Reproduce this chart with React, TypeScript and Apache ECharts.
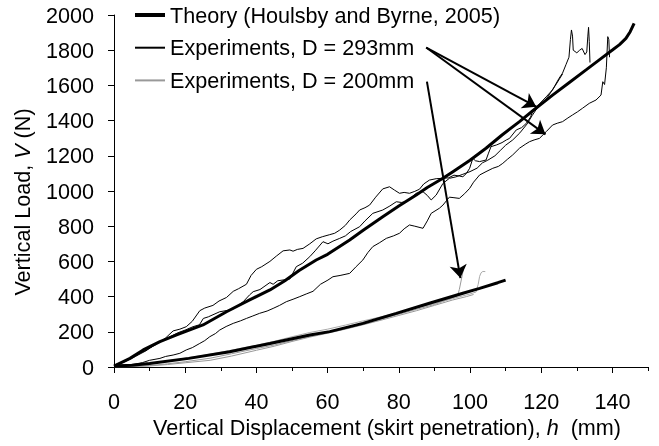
import React, { useEffect, useRef } from 'react';
import * as echarts from 'echarts';

// ---- data: [h (mm), V (N)] ----
const theory293 = [[0,5],[4.5,49],[8.2,97],[12.9,144],[17.6,182],[25,239],[31.6,314],[38.1,381],[43.8,438],[48,490],[52,548],[56.8,608],[60,640],[66.2,722],[70,777],[75.5,854],[80,915],[84.9,977],[88,1020],[92.4,1072],[95.2,1110],[100,1175],[104.5,1243],[109,1318],[113.9,1394],[118.5,1470],[123.2,1545],[128,1618],[132.6,1688],[136.5,1748],[140,1801],[142,1832],[143.8,1867],[145,1905],[146.1,1953]];

const theory200 = [[0,5],[5,10],[10,20],[21,49],[32.5,87],[43.8,134],[55,182],[60.6,201],[69.9,248],[79.3,305],[88.6,362],[98,419],[102.7,447],[107.8,479],[110,494]];

const exp293a = [[0,10],[3,35],[6,65],[9,95],[12,130],[14.5,165],[16.6,205],[18.5,215],[20.3,229],[22,260],[24.1,320],[25.5,335],[27.8,350],[29.5,375],[31.6,395],[33.5,430],[35,445],[37.2,470],[38.5,520],[40,555],[41.5,570],[43.8,600],[45.6,630],[47.5,660],[49.4,665],[50.3,658],[51.5,668],[53.1,674],[55,700],[56.8,728],[58.5,740],[60.6,752],[62,760],[63.4,778],[65,805],[66.2,835],[68,870],[69,892],[70.5,905],[71.8,920],[73.5,965],[75.5,1012],[77.4,1024],[78.8,1005],[80.2,987],[81.5,992],[83,987],[84.5,998],[85.8,1010],[87,1040],[88.6,1062],[90.5,1070],[92.4,1072],[94,1075],[95.5,1090],[97,1085],[98,1081],[99,1100],[99.9,1129],[100.8,1186],[101.5,1172],[102.7,1167],[104.5,1176],[105.2,1215],[105.9,1252],[107.5,1262],[109,1275],[110.2,1290],[111.1,1299],[113,1347],[114.5,1360],[115.8,1384],[117,1420],[117.6,1451],[119.5,1495],[121.4,1535],[123.2,1575],[125,1640],[126,1670],[127,1720],[127.8,1760],[128.2,1860],[128.5,1915],[128.8,1880],[129,1800],[130,1785],[130.8,1800],[131.5,1810],[132.3,1775],[132.8,1790],[133.1,1880],[133.3,1930],[133.5,1850],[133.7,1730]];

const exp293b = [[0,8],[3,30],[6,60],[9,92],[12,135],[15,165],[18,195],[20,210],[22.2,229],[24,240],[25.1,276],[26.5,285],[29.7,314],[32,322],[33.5,330],[36.3,371],[38.1,410],[39.1,428],[41,440],[43.8,480],[44.7,470],[46,490],[49.4,500],[51.2,570],[53,590],[55,627],[56.5,660],[58.7,712],[60.1,700],[61.5,715],[63.4,731],[65,745],[66.5,770],[69,797],[70.5,830],[72.7,873],[75.5,892],[77.5,915],[79.3,939],[80.7,935],[82.1,939],[84.9,987],[86.8,996],[88,975],[89.1,949],[90.5,977],[92.4,1043],[94.2,1072],[96,1080],[98,1095],[100,1110],[102,1130],[103.5,1160],[105,1175],[107,1200],[108.5,1230],[110,1260],[112,1290],[114,1330],[116,1380],[117.5,1430],[119,1475],[120.5,1500],[122,1540],[124,1600],[126,1665]];

const exp293c = [[0,5],[2,10],[4.5,11],[8,25],[10,38],[12.9,49],[14.5,60],[16.6,68],[18.5,78],[20.3,97],[22,110],[24.1,134],[25.5,150],[26.9,172],[28.5,190],[29.7,210],[31.5,230],[33.5,248],[35.5,262],[37.2,276],[39,290],[40.9,305],[43,318],[44.7,333],[46.5,350],[48.4,371],[50.3,385],[52.2,400],[54,415],[55.9,430],[58,470],[60.1,494],[61.5,513],[63.5,520],[66.2,532],[68,570],[69.9,608],[71.3,650],[72.7,684],[74.5,705],[76.5,731],[78.5,745],[80.2,760],[81.5,785],[83,807],[84.5,800],[86.8,788],[88,830],[89.1,873],[91.4,902],[92.4,920],[94.2,965],[95.5,962],[97,958],[98.5,985],[99.9,1015],[101,1050],[102.7,1091],[104.5,1110],[106.4,1129],[108,1140],[109.2,1157],[110.5,1180],[112,1205],[113.9,1243],[115.5,1265],[116.7,1280],[118,1290],[119.5,1299],[121.4,1337],[123.2,1375],[124.5,1385],[126,1394],[127.5,1415],[128.8,1432],[130.2,1450],[131.6,1470],[133.5,1498],[135.4,1517],[136.8,1545],[137.3,1621],[137.8,1605],[138.3,1700],[138.7,1877],[139,1860],[139.2,1760]];

const exp200a = [[0,3],[5,2],[10,8],[15,18],[20,30],[27,50],[33,75],[40,105],[45,125],[50,150],[55,175],[60,198],[65,222],[70,245],[75,272],[80,300],[85,328],[90,355],[94,385],[96.5,405],[97,440],[97.6,500],[98.2,560],[98.7,582]];
const exp200b = [[0,8],[5,14],[10,22],[15,34],[20,50],[25,66],[30,84],[35,104],[40,124],[45,146],[50,172],[55,196],[60,215],[65,238],[70,262],[75,285],[80,310],[85,336],[90,360],[95,388],[100,415],[101.7,426],[102.3,470],[102.7,515],[103.1,535],[103.6,543],[104.3,542]];
const exp200c = [[0,0],[5,3],[10,6],[15,14],[20,24],[27,38],[33,62],[40,95],[45,118],[50,145],[55,170],[60,192],[65,215],[70,240],[75,266],[80,293],[85,320],[90,350],[95,380],[99,400],[101,412]];

const xTickValues = [0, 20, 40, 60, 80, 100, 120, 140];

// arrows: [start [h,V], end [h,V]]
const arrows = [
  [[87.7, 1815], [118.6, 1479]],
  [[87.7, 1815], [121.2, 1322]],
  [[87.9, 1621], [97.3, 505]],
];

const nameTheory = 'Theory (Houlsby and Byrne, 2005)';
const name293 = 'Experiments, D = 293mm';
const name200 = 'Experiments, D = 200mm';

const FONT = '"Liberation Sans", Arial, sans-serif';
const FS = 21.6;

export default function App() {
  const ref = useRef<HTMLDivElement>(null);
  useEffect(() => {
    const chart = echarts.init(ref.current as HTMLDivElement, null, { renderer: 'svg' });
    const thin = (name: string, data: number[][], color: string) => ({
      type: 'line', name, data, symbol: 'none', showSymbol: false, color,
      lineStyle: { color, width: 1 }, emphasis: { disabled: true }, z: 2,
    });
    chart.setOption({
      animation: false,
      textStyle: { fontFamily: FONT, color: '#000' },
      grid: { left: 114, right: 11, top: 15, bottom: 79 },
      legend: {
        left: 133, top: 4, padding: 0, orient: 'vertical', itemWidth: 30, itemHeight: 22, itemGap: 10.7,
        selectedMode: false,
        itemStyle: { opacity: 0 },
        textStyle: { fontFamily: FONT, fontSize: FS, color: '#000' },
        data: [
          { name: nameTheory, lineStyle: { width: 4 } },
          { name: name293 },
          { name: name200 },
        ],
      },
      xAxis: [
        {
          type: 'value', min: 0, max: 150, interval: 20,
          axisLine: { show: true, onZero: false, lineStyle: { color: '#000', width: 1 } },
          axisTick: { show: true, length: 6, lineStyle: { color: '#000' }, customValues: xTickValues },
          axisLabel: { customValues: xTickValues, margin: 23, fontSize: FS, color: '#000', fontFamily: FONT },
          splitLine: { show: false },
          name: '{a|Vertical Displacement (skirt penetration), }{b|h}{a|  (mm)}',
          nameLocation: 'middle', nameGap: 49,
          nameTextStyle: {
            fontSize: FS, color: '#000', fontFamily: FONT, padding: [0, 0, 0, 12],
            rich: {
              a: { fontSize: FS, fontFamily: FONT, color: '#000' },
              b: { fontSize: FS, fontFamily: FONT, color: '#000', fontStyle: 'italic' },
            },
          },
        },
        {
          type: 'value', min: 0, max: 150, interval: 10, position: 'bottom',
          axisLine: { show: false, onZero: false },
          axisTick: { show: true, length: 4, lineStyle: { color: '#000' } },
          axisLabel: { show: false },
          splitLine: { show: false },
        },
      ],
      yAxis: {
        type: 'value', min: 0, max: 2000, interval: 200,
        axisLine: { show: true, lineStyle: { color: '#000', width: 1 } },
        axisTick: { show: true, length: 6, lineStyle: { color: '#000' } },
        axisLabel: { margin: 20, fontSize: FS, color: '#000', fontFamily: FONT, formatter: (v: number) => String(v) },
        splitLine: { show: false },
        name: '{a|Vertical Load, }{b|V}{a| (N)}',
        nameLocation: 'middle', nameGap: 81, nameRotate: 90,
        nameTextStyle: {
          fontSize: FS, color: '#000', fontFamily: FONT, padding: [0, 22, 0, 0],
          rich: {
            a: { fontSize: FS, fontFamily: FONT, color: '#000' },
            b: { fontSize: FS, fontFamily: FONT, color: '#000', fontStyle: 'italic' },
          },
        },
      },
      series: [
        thin(name200, exp200a, '#999999'),
        thin(name200, exp200b, '#aaaaaa'),
        thin(name200, exp200c, '#999999'),
        thin(name293, exp293a, '#000000'),
        thin(name293, exp293b, '#000000'),
        thin(name293, exp293c, '#000000'),
        {
          type: 'line', name: nameTheory, data: theory293, symbol: 'none', showSymbol: false,
          color: '#000', lineStyle: { color: '#000', width: 3 }, emphasis: { disabled: true }, z: 3,
        },
        {
          type: 'line', name: nameTheory, data: theory200, symbol: 'none', showSymbol: false,
          color: '#000', lineStyle: { color: '#000', width: 3 }, emphasis: { disabled: true }, z: 3,
          markLine: {
            silent: true, symbol: ['none', 'arrow'], symbolSize: 13,
            label: { show: false }, emphasis: { disabled: true },
            lineStyle: { color: '#000', width: 2, type: 'solid' },
            data: arrows.map(([a, b]) => [{ coord: a }, { coord: b }]),
          },
        },
      ],
    });
    return () => chart.dispose();
  }, []);
  return <div ref={ref} style={{ position: 'fixed', left: 0, top: 0, width: 659, height: 446 }} />;
}
